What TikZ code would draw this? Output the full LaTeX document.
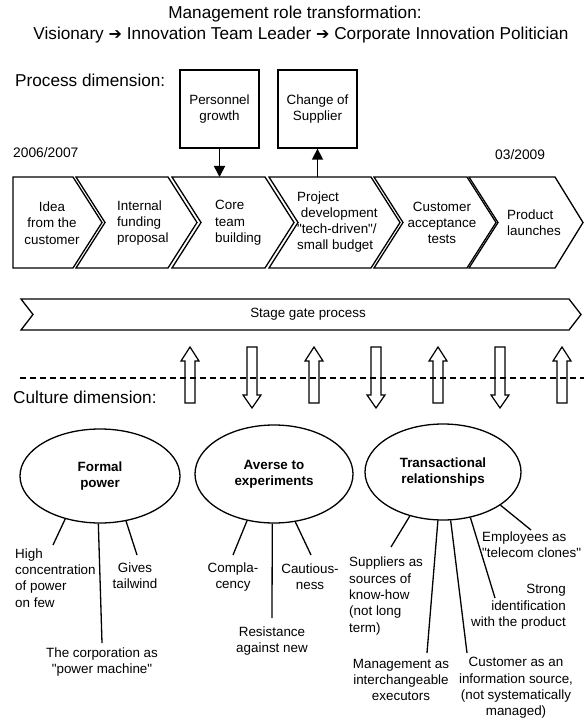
\documentclass[tikz,border=0pt]{standalone}
\usepackage{fontspec}
\setmainfont{Liberation Sans}
\newfontfamily\plainfont{Liberation Sans}
\newfontfamily\symfont{DejaVu Sans}
\usetikzlibrary{shapes.geometric,arrows.meta}
\begin{document}
\begin{tikzpicture}[x=1pt,y=-1pt,
  ln/.style={line width=1.3pt},
  txt/.style={inner sep=0pt, font=\plainfont\fontsize{13.4}{16.3}\selectfont, align=center},
  hdr/.style={inner sep=0pt, font=\plainfont\fontsize{17.2}{21}\selectfont, align=center},
  bx/.style={draw, line width=1.3pt, minimum width=79pt, minimum height=78pt, inner sep=0pt, align=center, font=\plainfont\fontsize{13.4}{16.3}\selectfont},
  oval/.style={ellipse, draw, line width=1.3pt, inner sep=0pt, align=center, font=\plainfont\bfseries\fontsize{13.4}{16.3}\selectfont},
  blk/.style={draw, line width=1.2pt},
  tipped/.style={line width=1.5pt, -{Triangle[length=11pt,width=11pt]}}
]
\useasboundingbox (0,0) rectangle (584,722);

% title
\node[hdr] (t1) at (295,14) {Management role transformation:};
\node[hdr] (t2) at (301,35) {Visionary {\symfont\fontsize{16}{18}\selectfont ➔} Innovation Team Leader {\symfont\fontsize{16}{18}\selectfont ➔} Corporate Innovation Politician};

% process dimension
\node[hdr, anchor=west] (pd) at (15,80) {Process dimension:};
\node[bx] (pg) at (219.5,109) {Personnel\\growth};
\node[bx] (cs) at (317.5,109) {Change of\\Supplier};
\node[txt, anchor=west, font=\plainfont\fontsize{13.8}{16}\selectfont] (d1) at (13,153) {2006/2007};
\node[txt, anchor=west, font=\plainfont\fontsize{13.8}{16}\selectfont] (d2) at (495,155) {03/2009};

% chevrons
\draw[ln] (13,177) -- (73,177) -- (102,222.5) -- (73,268) -- (13,268) -- cycle;
\draw[ln] (76,177) -- (168,177) -- (197,222.5) -- (168,268) -- (76,268) -- (105,222.5) -- cycle;
\draw[ln] (172,177) -- (265,177) -- (294,222.5) -- (265,268) -- (172,268) -- (201,222.5) -- cycle;
\draw[ln] (269,177) -- (371,177) -- (400,222.5) -- (371,268) -- (269,268) -- (298,222.5) -- cycle;
\draw[ln] (374,177) -- (467,177) -- (496,222.5) -- (467,268) -- (374,268) -- (403,222.5) -- cycle;
\draw[ln] (469,177) -- (555,177) -- (583,222.5) -- (555,268) -- (469,268) -- (498,222.5) -- cycle;

\node[txt] (c1) at (52,223) {Idea\\from the\\customer};
\node[txt, anchor=west, align=left] (c2) at (117,223) {Internal\\funding\\proposal};
\node[txt, anchor=west, align=left] (c3) at (215,223) {Core\\team\\building};
\node[txt, anchor=west, align=left] (c4) at (297,222) {Project\\\ development\\"tech-driven"/\\small budget};
\node[txt] (c5) at (442,223) {Customer\\acceptance\\tests};
\node[txt, anchor=west, align=left] (c6) at (507,223) {Product\\launches};

\coordinate (pgend) at (219.5,177);
\coordinate (csstart) at (317.5,177);
\draw[tipped] (pg.south) -- (pgend);
\draw[tipped] (csstart) -- (cs.south);

% stage gate
\draw[ln] (21,299) -- (569,299) -- (581,314.5) -- (569,330) -- (21,330) -- (33,314.5) -- cycle;
\node[txt] (sg) at (308,314.5) {Stage gate process};

% dashed divider
\coordinate (dl) at (20,378);
\coordinate (dr) at (584,378);
\draw[line width=1.1pt, dash pattern=on 6pt off 4pt] (dl) -- (dr);
\node[hdr, anchor=west] (cd) at (13,397) {Culture dimension:};

% block arrows
\foreach \cx in {190,314,438,562}{
  \draw[blk] (\cx,347) -- (\cx+9,361) -- (\cx+5,361) -- (\cx+5,403) -- (\cx-5,403) -- (\cx-5,361) -- (\cx-9,361) -- cycle;
}
\foreach \cx in {252,376,500}{
  \draw[blk] (\cx-5,347) -- (\cx+5,347) -- (\cx+5,395) -- (\cx+9,395) -- (\cx,408) -- (\cx-9,395) -- (\cx-5,395) -- cycle;
}

% ellipses
\node[oval, minimum width=160pt, minimum height=94pt] (fp) at (100,476) {Formal\\power};
\node[oval, minimum width=158pt, minimum height=98pt] (ae) at (274,474) {Averse to\\experiments};
\node[oval, minimum width=156pt, minimum height=96pt] (tr) at (443,472) {Transactional\\relationships};

% labels
\node[txt, anchor=west, align=left] (hi) at (15,578) {High\\concentration\\of power\\on few};
\node[txt] (gt) at (135,576) {Gives\\tailwind};
\node[txt] (corp) at (102,662) {The corporation as\\"power machine"};
\node[txt] (comp) at (233,577) {Compla-\\cency};
\node[txt] (caut) at (310,577) {Cautious-\\ness};
\node[txt] (res) at (272,641) {Resistance\\against new};
\node[txt, anchor=west, align=left] (sup) at (349,596) {Suppliers as\\sources of\\know-how\\(not long\\term)};
\node[txt, anchor=west, align=left] (emp) at (482,545) {Employees as\\"telecom clones"};
\node[txt, anchor=east, align=right] (str) at (566,607) {Strong\\identification\\with the product};
\node[txt] (mgmt) at (401,680) {Management as\\interchangeable\\executors};
\node[txt] (cust) at (516,688) {Customer as an\\information source,\\(not systematically\\managed)};

% connector ends
\coordinate (e1) at (53,545);
\coordinate (e2) at (102,643);
\coordinate (e3) at (137,555);
\coordinate (e4) at (233,555);
\coordinate (e5) at (272,618);
\coordinate (e6) at (311,555);
\coordinate (e7) at (391,547);
\coordinate (e8) at (427,653);
\coordinate (e9) at (467,653);
\coordinate (e10) at (495,598);
\coordinate (e11) at (531,530);

\draw[ln] (fp.231.5) -- (e1);
\draw[ln] (fp.268.5) -- (e2);
\draw[ln] (fp.300.4) -- (e3);
\draw[ln] (ae.240.6) -- (e4);
\draw[ln] (ae.268.5) -- (e5);
\draw[ln] (ae.294.6) -- (e6);
\draw[ln] (tr.233.5) -- (e7);
\draw[ln] (tr.264) -- (e8);
\draw[ln] (tr.279.4) -- (e9);
\draw[ln] (tr.301.3) -- (e10);
\draw[ln] (tr.330.6) -- (e11);
\end{tikzpicture}
\end{document}
